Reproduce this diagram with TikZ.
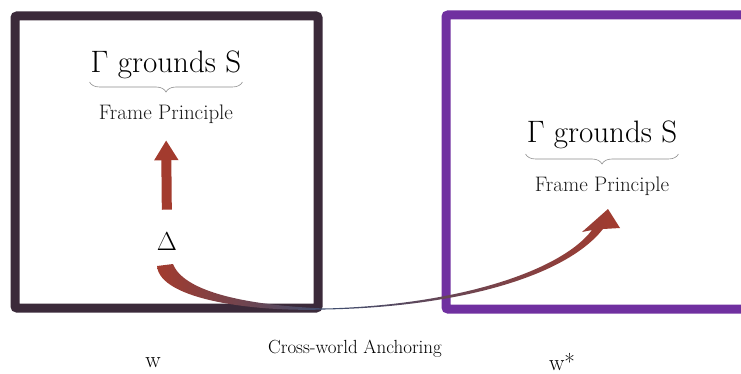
\documentclass[tikz,border=0pt]{standalone}
\usepackage{fix-cm}
\usepackage{tikz}
\usetikzlibrary{arrows.meta,positioning,decorations.pathreplacing}

\definecolor{wborder}{HTML}{3B2A3A}
\definecolor{wsborder}{HTML}{7030A0}
\definecolor{anchorred}{HTML}{A33B2E}
\definecolor{anchorslate}{HTML}{3E4E70}

\begin{document}
\begin{tikzpicture}[x=1pt, y=-1pt,
  worldbox/.style={draw, line width=9pt, rounded corners=2pt, inner sep=0pt},
  ground/.style={font=\fontsize{31}{36}\selectfont, inner sep=1pt, anchor=base},
  frame/.style={font=\fontsize{21}{25}\selectfont, text=black!90, inner sep=1pt, anchor=base},
  underbrace/.style={decorate, decoration={brace, mirror, amplitude=10pt}, draw=black!45, line width=0.6pt},
  liftarrow/.style={draw=anchorred, line width=10pt, -{Triangle[width=23pt, length=20pt]}},
  worldlabel/.style={font=\fontsize{23}{27}\selectfont}]
  \useasboundingbox (0,0) rectangle (741,374);
  \clip (0,0) rectangle (741,374);

  % The two worlds
  \node[worldbox, draw=wborder, minimum width=303pt, minimum height=292pt] (boxw) at (166.5,162) {};
  \node[worldbox, draw=wsborder, minimum width=316pt, minimum height=294pt] (boxws) at (604,162) {};

  % Grounding in w
  \node[ground] (gndw) at (166,73) {$\Gamma$ grounds S};
  \draw[underbrace] ([yshift=-9pt]gndw.base west) -- ([yshift=-9pt]gndw.base east);
  \node[frame] (fpw) at ([yshift=-47pt]gndw.base) {Frame Principle};
  \node[font=\fontsize{26}{30}\selectfont, anchor=base] (delta) at (167,250) {$\Delta$};
  \draw[liftarrow, shorten <=19pt, shorten >=15pt] (delta.north) -- (fpw.south);

  % Grounding in w*
  \node[ground] (gndws) at (602,143) {$\Gamma$ grounds S};
  \draw[underbrace] ([yshift=-11pt]gndws.base west) -- ([yshift=-11pt]gndws.base east);
  \node[frame] (fpws) at ([yshift=-49pt]gndws.base) {Frame Principle};

  % Cross-world anchoring: tapered curve from Delta to w*
  \coordinate (pinch) at (325,309);
  \shade[left color=anchorred, middle color=anchorred, right color=anchorslate]
    (157,266) -- (173,264) .. controls (185,295) and (260,306) .. ([yshift=0.5pt]pinch)
    -- ([yshift=-0.5pt]pinch) .. controls (255,312) and (160,300) .. (157,266) -- cycle;
  \shade[left color=anchorslate, middle color=anchorred, right color=anchorred]
    ([yshift=0.5pt]pinch) .. controls (460,305) and (562,270) .. (592,230)
    -- (582,232) -- (608,209) -- (620,228) -- (603,229)
    .. controls (566,276) and (460,307) .. ([yshift=-0.5pt]pinch) -- cycle;

  % Labels
  \node[worldlabel] (lblw) at (153,363) {w};
  \node[worldlabel] (lblws) at (562,362) {w*};
  \node[font=\fontsize{19}{23}\selectfont] (anchor) at (355,349) {Cross-world Anchoring};
\end{tikzpicture}
\end{document}
